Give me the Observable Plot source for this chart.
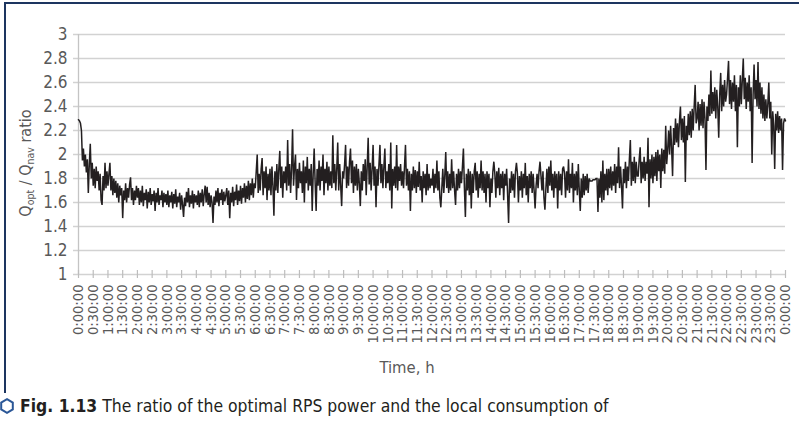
<!DOCTYPE html>
<html><head><meta charset="utf-8">
<script src="https://cdn.jsdelivr.net/npm/d3@7"></script>
<script src="https://cdn.jsdelivr.net/npm/@observablehq/plot@0.6"></script>
<style>
html,body{margin:0;padding:0;background:#fff;}
body{width:799px;height:423px;overflow:hidden;position:relative;font-family:"DejaVu Sans Condensed","DejaVu Sans",sans-serif;}
#frame{position:absolute;left:4px;top:2px;width:800px;height:389px;border-left:2.6px solid #1d3560;border-top:2.6px solid #1d3560;pointer-events:none;}
#chart{position:absolute;left:0;top:0;}
#caption{position:absolute;left:0;top:396px;font-size:17.4px;color:#231f20;white-space:nowrap;line-height:20px;}
#caption svg{vertical-align:-2px;margin-right:6px;}
</style>
</head><body>
<div id="chart"></div>
<div id="frame"></div>
<div id="caption"><svg width="14" height="16" viewBox="0 0 14 16"><polygon points="7,1.2 12.8,4.6 12.8,11.4 7,14.8 1.2,11.4 1.2,4.6" fill="none" stroke="#2b5797" stroke-width="2"/></svg><b>Fig. 1.13</b> The ratio of the optimal RPS power and the local consumption of</div>
<script>
// Q_opt / Q_nav ratio, one value every 2 minutes, grouped by hour of the day
const ratio00 = [2.29,2.28,2.26,2.20,1.95,2.05,1.90,2.00,1.85,1.96,1.68,1.92,2.09,1.80,1.93,1.74,1.88,1.72,1.90,1.78,1.86,1.70,1.84,1.62,1.58,1.82,1.70,1.93,1.72,1.86];
const ratio01 = [1.74,1.84,1.93,1.70,1.82,1.66,1.80,1.68,1.78,1.64,1.76,1.60,1.74,1.66,1.72,1.47,1.70,1.62,1.76,1.60,1.72,1.64,1.75,1.81,1.62,1.72,1.58,1.70,1.62,1.74];
const ratio02 = [1.64,1.72,1.58,1.70,1.60,1.74,1.57,1.68,1.62,1.71,1.55,1.69,1.60,1.72,1.58,1.67,1.61,1.70,1.53,1.68,1.60,1.72,1.58,1.66,1.62,1.70,1.56,1.68,1.60,1.67];
const ratio03 = [1.58,1.70,1.56,1.66,1.60,1.69,1.55,1.67,1.59,1.71,1.56,1.65,1.60,1.68,1.54,1.66,1.58,1.48,1.64,1.57,1.69,1.60,1.72,1.56,1.66,1.59,1.70,1.55,1.67,1.60];
const ratio04 = [1.66,1.58,1.70,1.56,1.68,1.60,1.71,1.57,1.67,1.74,1.60,1.73,1.58,1.68,1.56,1.66,1.60,1.43,1.65,1.58,1.70,1.60,1.72,1.57,1.68,1.62,1.71,1.58,1.69,1.61];
const ratio05 = [1.66,1.72,1.58,1.70,1.47,1.68,1.60,1.73,1.57,1.69,1.62,1.75,1.58,1.70,1.61,1.74,1.59,1.72,1.64,1.76,1.60,1.74,1.63,1.78,1.62,1.76,1.66,1.80,1.64,1.76];
const ratio06 = [1.72,1.86,2.00,1.68,1.84,1.70,1.88,1.97,1.66,1.86,1.72,1.90,1.62,1.84,1.70,1.88,1.66,1.90,1.74,1.49,1.86,1.70,1.92,1.68,1.88,2.03,1.72,1.90,1.64,1.86];
const ratio07 = [1.76,1.90,1.70,2.12,1.74,1.92,1.68,1.88,2.21,1.74,1.90,2.00,1.62,1.88,1.72,1.93,1.76,1.86,1.68,1.95,1.60,1.90,1.76,1.98,1.70,1.88,1.74,1.92,1.53,1.84];
const ratio08 = [2.05,1.76,1.53,1.88,1.74,1.95,1.70,1.90,1.78,2.00,1.66,1.88,1.76,1.94,1.70,1.90,1.74,1.86,1.72,2.16,1.76,1.92,1.70,1.88,2.10,1.70,1.92,1.74,1.57,1.86];
const ratio09 = [1.80,1.92,2.08,1.72,1.90,1.74,1.94,2.05,1.76,1.95,1.68,1.90,1.74,1.92,1.70,1.88,1.76,1.57,1.86,1.70,1.92,1.78,1.96,1.66,1.90,2.14,1.75,1.93,1.70,1.88];
const ratio10 = [2.08,1.74,1.90,1.56,1.88,1.74,1.92,2.08,1.76,1.92,1.72,1.90,2.05,1.72,1.86,1.76,1.92,1.70,2.10,1.55,1.88,1.74,1.90,1.72,2.08,1.70,1.90,1.78,1.92,1.74];
const ratio11 = [1.86,1.72,1.90,2.08,1.74,1.88,1.70,1.86,1.53,1.84,1.70,1.90,1.72,1.87,1.68,1.86,1.73,1.94,1.70,1.82,1.60,1.86,1.72,1.84,1.66,1.92,1.70,1.84,1.72,1.80];
const ratio12 = [1.74,1.88,1.68,1.84,1.72,1.95,1.70,1.86,1.64,1.56,1.72,1.88,1.68,1.82,2.02,1.72,1.86,1.68,1.84,1.70,1.96,1.72,1.86,1.70,1.58,1.84,1.70,1.88,1.72,1.86];
const ratio13 = [1.76,1.90,2.05,1.72,1.48,1.84,1.70,1.88,1.66,1.86,1.55,1.84,1.68,1.86,1.93,1.70,1.86,1.64,1.84,1.72,1.95,1.70,1.86,1.68,1.84,1.60,1.86,1.72,1.84,1.56];
const ratio14 = [1.80,1.68,1.86,1.94,1.84,1.64,1.86,1.72,1.89,1.66,1.84,1.72,1.86,1.62,1.84,1.74,1.88,1.66,1.43,1.80,1.68,1.86,1.70,1.84,1.64,1.86,1.93,1.84,1.60,1.82];
const ratio15 = [1.70,1.86,1.64,1.84,1.72,1.93,1.66,1.82,1.60,1.84,1.72,1.86,1.68,1.84,1.70,1.55,1.74,1.84,1.72,1.86,1.94,1.82,1.70,1.86,1.64,1.54,1.72,1.88,1.68,1.90];
const ratio16 = [1.74,1.95,1.70,1.84,1.64,1.86,1.72,1.84,1.55,1.86,1.70,1.84,1.66,1.88,1.90,1.84,1.64,1.86,1.70,1.96,1.68,1.84,1.72,1.93,1.60,1.84,1.70,1.86,1.66,1.92];
const ratio17 = [1.70,1.53,1.80,1.64,1.84,1.66,1.82,1.70,1.84,1.68,1.80,1.78,1.78,1.78,1.79,1.79,1.79,1.80,1.80,1.52,1.80,1.64,1.86,1.60,1.95,1.62,1.84,1.70,1.88,1.66];
const ratio18 = [1.88,1.72,1.90,1.70,1.86,1.74,1.92,1.68,1.90,1.76,2.06,1.72,1.90,1.74,1.55,1.88,1.76,1.94,1.72,1.90,1.78,1.96,2.12,1.74,1.94,1.78,1.98,1.76,1.94,1.82];
const ratio19 = [1.82,1.96,2.06,1.76,1.94,1.80,1.98,1.78,1.94,1.84,2.14,1.56,1.96,1.80,2.00,1.76,1.98,1.82,2.02,1.78,2.04,1.86,2.00,1.72,2.05,1.86,2.04,1.84,2.24,1.92];
const ratio20 = [2.04,2.20,2.00,2.24,2.06,1.82,2.22,2.08,2.30,2.10,2.26,2.06,2.28,2.40,2.12,2.30,2.10,2.32,1.77,2.24,2.12,2.34,2.16,2.36,2.14,2.38,2.20,2.40,2.58,2.26];
const ratio21 = [2.30,2.44,2.20,2.42,2.24,2.46,2.22,2.44,2.30,1.87,2.40,2.28,2.50,2.32,2.70,2.34,2.52,2.36,2.56,2.30,2.54,2.40,2.14,2.50,2.68,2.36,2.58,2.40,2.62,2.44];
const ratio22 = [2.50,2.64,2.78,2.42,2.62,2.38,2.60,2.44,2.66,2.36,2.58,2.06,2.56,2.40,2.66,2.42,2.62,2.80,2.46,2.64,2.38,2.60,2.44,2.66,2.36,2.56,1.93,2.50,2.75,2.46];
const ratio23 = [2.62,2.40,2.77,2.38,2.60,2.34,2.56,2.30,2.50,2.28,2.46,2.30,2.42,2.60,2.30,2.44,2.00,2.36,2.24,1.88,2.34,2.20,2.36,2.18,2.32,2.20,2.30,1.87,2.26,2.30];
const ratioEnd = 2.28; // 24:00 (0:00:00 next day)

const xTickMinutes = d3.range(0, 1441, 30);
const xTickLabels = ["0:00:00","0:30:00","1:00:00","1:30:00","2:00:00","2:30:00","3:00:00","3:30:00","4:00:00","4:30:00","5:00:00","5:30:00","6:00:00","6:30:00","7:00:00","7:30:00","8:00:00","8:30:00","9:00:00","9:30:00","10:00:00","10:30:00","11:00:00","11:30:00","12:00:00","12:30:00","13:00:00","13:30:00","14:00:00","14:30:00","15:00:00","15:30:00","16:00:00","16:30:00","17:00:00","17:30:00","18:00:00","18:30:00","19:00:00","19:30:00","20:00:00","20:30:00","21:00:00","21:30:00","22:00:00","22:30:00","23:00:00","23:30:00","0:00:00"];
const yTicks = [1, 1.2, 1.4, 1.6, 1.8, 2, 2.2, 2.4, 2.6, 2.8, 3];
const yTickLabels = ["1","1.2","1.4","1.6","1.8","2","2.2","2.4","2.6","2.8","3"];

const hours = [ratio00,ratio01,ratio02,ratio03,ratio04,ratio05,ratio06,ratio07,ratio08,ratio09,ratio10,ratio11,ratio12,ratio13,ratio14,ratio15,ratio16,ratio17,ratio18,ratio19,ratio20,ratio21,ratio22,ratio23];
const data = [];
hours.forEach((arr, h) => arr.forEach((v, i) => data.push({t: h * 60 + i * 2, v})));
data.push({t: 1440, v: ratioEnd});

const FONT = '"DejaVu Sans Condensed","DejaVu Sans",sans-serif';
const TXT = "#595959";

const chart = Plot.plot({
  width: 799, height: 392,
  marginLeft: 78, marginRight: 14, marginTop: 34, marginBottom: 118,
  style: {fontFamily: FONT, fontSize: "17px", color: TXT, background: "transparent", overflow: "visible"},
  x: {domain: [0, 1440], axis: null},
  y: {domain: [1, 3], axis: null},
  marks: [
    Plot.ruleY(yTicks, {y: d => d, stroke: "#d2d2d2", strokeWidth: 1.5, insetLeft: -5}),
    Plot.ruleX([0], {x: d => d, stroke: "#c4c4c4", strokeWidth: 1.3}),
    Plot.ruleX(xTickMinutes, {x: d => d, y1: 1, y2: 1, insetTop: -4, insetBottom: -4, stroke: "#bdbdbd", strokeWidth: 1.2}),
    Plot.axisY(yTicks, {tickSize: 0, tickPadding: 11, tickFormat: (d, i) => yTickLabels[i], fill: TXT, fontSize: 17, label: null}),
    Plot.axisX(xTickMinutes, {tickSize: 0, tickPadding: 10, tickRotate: -90, tickFormat: (d, i) => xTickLabels[i], fill: TXT, fontSize: 14.6, label: null}),
    Plot.line(data, {x: "t", y: "v", stroke: "#231f20", strokeWidth: 1.5, strokeLinejoin: "miter", strokeMiterlimit: 2}),
    Plot.text(["Time, h"], {frameAnchor: "bottom", dx: -25, dy: 98, text: d => d, fill: TXT, fontSize: 16.5})
  ]
});
document.getElementById("chart").appendChild(chart);

// y-axis title with subscripts
const svg = d3.select(chart);
const t = svg.append("text")
  .attr("transform", "translate(31,163) rotate(-90)")
  .attr("text-anchor", "middle")
  .attr("fill", TXT)
  .style("font-family", FONT)
  .style("font-size", "16px");
t.append("tspan").text("Q");
t.append("tspan").attr("font-size", "10.5px").attr("dy", 3).text("opt");
t.append("tspan").attr("dy", -3).text(" / Q");
t.append("tspan").attr("font-size", "10.5px").attr("dy", 3).text("nav");
t.append("tspan").attr("dy", -3).text(" ratio");
</script>
</body></html>
